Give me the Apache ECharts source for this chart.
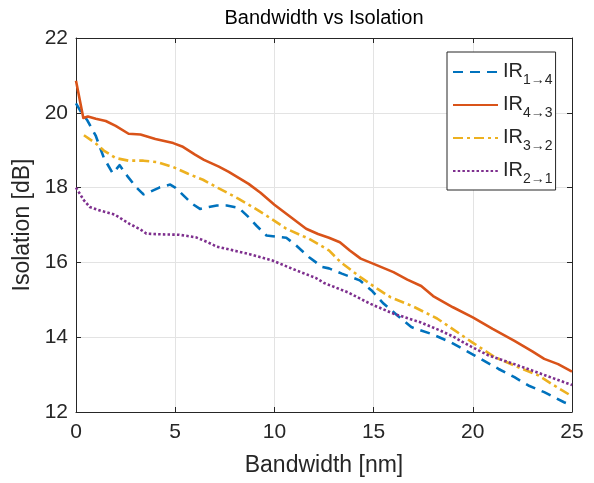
<!DOCTYPE html>
<html>
<head>
<meta charset="utf-8">
<script src="https://cdn.jsdelivr.net/npm/echarts@6/dist/echarts.min.js"></script>
<style>html,body{margin:0;padding:0;background:#fff;}#c{width:594px;height:483px;}</style>
</head>
<body>
<div id="c"></div>
<script>
// ---- data ----
const seriesNames = ['IR1→4', 'IR4→3', 'IR3→2', 'IR2→1'];
const subLabels = ['1→4', '4→3', '3→2', '2→1'];

const x14 = [0, 0.3, 0.57, 1.0, 1.4, 1.85, 2.2, 2.6, 3.05, 3.4, 3.7, 4.2, 4.75, 5.0, 5.4, 5.85, 6.25, 6.7, 7.1, 7.6, 8.2, 8.7, 9.1, 9.6, 10.2, 10.6, 11.1, 11.75, 12.4, 12.75, 13.4, 14.3, 14.9, 15.5, 16.2, 16.9, 17.9, 18.9, 20.1, 21.3, 22.1, 22.8, 23.6, 24.6, 25.0];
const y14 = [20.25, 19.98, 19.8, 19.38, 18.8, 18.38, 18.6, 18.3, 18.0, 17.82, 17.88, 18.0, 18.08, 18.0, 17.8, 17.57, 17.43, 17.48, 17.52, 17.52, 17.46, 17.21, 16.98, 16.72, 16.68, 16.66, 16.45, 16.14, 15.88, 15.84, 15.7, 15.52, 15.25, 14.9, 14.58, 14.27, 14.09, 13.86, 13.51, 13.15, 12.93, 12.71, 12.53, 12.26, 12.18];

const x43 = [0, 0.37, 0.6, 1.0, 1.5, 2.0, 2.65, 3.25, 4.0, 4.9, 5.35, 6.0, 6.45, 7.2, 7.7, 8.7, 9.3, 10.0, 10.8, 11.6, 12.2, 12.75, 13.3, 13.8, 14.35, 15.0, 16.0, 16.7, 17.4, 18.0, 19.0, 20.0, 21.0, 22.1, 23.0, 23.6, 24.3, 25.0];
const y43 = [20.86, 19.86, 19.9, 19.84, 19.78, 19.65, 19.44, 19.42, 19.3, 19.19, 19.1, 18.88, 18.74, 18.56, 18.42, 18.1, 17.86, 17.54, 17.22, 16.9, 16.76, 16.66, 16.54, 16.32, 16.1, 15.96, 15.74, 15.54, 15.37, 15.1, 14.8, 14.53, 14.22, 13.9, 13.62, 13.42, 13.28, 13.08];

const x32 = [0.4, 1.0, 1.4, 2.0, 2.65, 3.4, 4.1, 4.9, 5.65, 6.4, 7.2, 8.2, 9.0, 9.6, 10.6, 11.75, 12.75, 13.35, 14.35, 15.2, 15.85, 17.0, 18.2, 18.9, 19.95, 21.1, 22.1, 23.3, 24.1, 25.0];
const y32 = [19.4, 19.18, 18.99, 18.79, 18.72, 18.72, 18.68, 18.55, 18.37, 18.21, 17.98, 17.7, 17.45, 17.25, 16.9, 16.63, 16.32, 16.0, 15.6, 15.29, 15.07, 14.82, 14.5, 14.25, 13.87, 13.47, 13.24, 12.98, 12.71, 12.42];

const x21 = [0, 0.4, 0.7, 1.25, 1.95, 2.7, 3.25, 3.55, 4.3, 5.2, 6.05, 6.6, 7.1, 8.1, 8.75, 9.9, 10.9, 12.1, 12.5, 13.7, 14.85, 16.0, 17.35, 18.35, 19.0, 19.8, 20.8, 22.1, 23.5, 25.0];
const y21 = [18.0, 17.66, 17.48, 17.38, 17.28, 17.03, 16.88, 16.77, 16.75, 16.74, 16.67, 16.55, 16.42, 16.3, 16.22, 16.05, 15.83, 15.58, 15.45, 15.2, 14.89, 14.63, 14.4, 14.18, 14.02, 13.78, 13.51, 13.28, 13.01, 12.72];

const xTicks = [0, 5, 10, 15, 20, 25];
const yTicks = [12, 14, 16, 18, 20, 22];

// ---- chart ----
const FONT = '"Liberation Sans", Arial, Helvetica, sans-serif';
const AX = '#262626';
const zip = (xs, ys) => xs.map((x, i) => [x, ys[i]]);
const colors = ['#0072BD', '#D95319', '#EDB120', '#7E2F8E'];
const dashes = [[10, 7], 'solid', [10, 4, 3, 4], [2.5, 2.2]];
const xs = [x14, x43, x32, x21];
const ys = [y14, y43, y32, y21];

const chart = echarts.init(document.getElementById('c'), null, {renderer: 'canvas'});

const baseX = {
  type: 'value', min: xTicks[0], max: xTicks[xTicks.length - 1], interval: 5,
  axisLine: {show: true, onZero: false, lineStyle: {color: AX, width: 1}},
  axisTick: {show: true, inside: true, length: 5, lineStyle: {color: AX}},
  splitLine: {show: true, lineStyle: {color: '#e3e3e3', width: 1}}
};
const baseY = {
  type: 'value', min: yTicks[0], max: yTicks[yTicks.length - 1], interval: 2,
  axisLine: {show: true, onZero: false, lineStyle: {color: AX, width: 1}},
  axisTick: {show: true, inside: true, length: 5, lineStyle: {color: AX}},
  splitLine: {show: true, lineStyle: {color: '#e3e3e3', width: 1}}
};

chart.setOption({
  animation: false,
  backgroundColor: '#ffffff',
  title: {
    text: 'Bandwidth vs Isolation',
    left: 324, top: 8, padding: 0, textAlign: 'center',
    textStyle: {fontFamily: FONT, fontSize: 20, fontWeight: 'normal', color: '#000'}
  },
  grid: {left: 76, right: 22, top: 38, bottom: 71},
  xAxis: [
    Object.assign({}, baseX, {
      position: 'bottom',
      name: 'Bandwidth [nm]', nameLocation: 'middle', nameGap: 42,
      nameTextStyle: {fontFamily: FONT, fontSize: 23, color: AX},
      axisLabel: {fontFamily: FONT, fontSize: 21, color: AX, margin: 10}
    }),
    Object.assign({}, baseX, {position: 'top', axisLabel: {show: false}, splitLine: {show: false}})
  ],
  yAxis: [
    Object.assign({}, baseY, {
      position: 'left',
      name: 'Isolation [dB]', nameLocation: 'middle', nameGap: 38,
      nameTextStyle: {fontFamily: FONT, fontSize: 23, color: AX},
      axisLabel: {fontFamily: FONT, fontSize: 21, color: AX, margin: 8}
    }),
    Object.assign({}, baseY, {position: 'right', axisLabel: {show: false}, splitLine: {show: false}})
  ],
  legend: {
    orient: 'vertical', left: 447, top: 52,
    padding: [9, 3, 4, 5],
    itemGap: 7,
    itemWidth: 45, itemHeight: 14,
    backgroundColor: '#fff', borderColor: AX, borderWidth: 1,
    itemStyle: {opacity: 0},
    data: seriesNames,
    formatter: function (name) {
      const i = seriesNames.indexOf(name);
      return '{a|IR}{s|' + subLabels[i] + '}';
    },
    textStyle: {
      fontFamily: FONT, color: AX,
      rich: {
        a: {fontFamily: FONT, fontSize: 20, color: AX, verticalAlign: 'top', lineHeight: 22},
        s: {fontFamily: FONT, fontSize: 14, color: AX, verticalAlign: 'top', padding: [12, 0, 0, 0], lineHeight: 14}
      }
    }
  },
  series: seriesNames.map((n, i) => ({
    name: n, type: 'line', xAxisIndex: 0, yAxisIndex: 0,
    data: zip(xs[i], ys[i]),
    showSymbol: false, symbol: 'none', smooth: false,
    color: colors[i],
    lineStyle: {color: colors[i], width: 2.6, type: dashes[i], cap: 'butt', join: 'round'},
    z: 2 + (i === 1 ? 0 : i)
  }))
});
</script>
</body>
</html>
